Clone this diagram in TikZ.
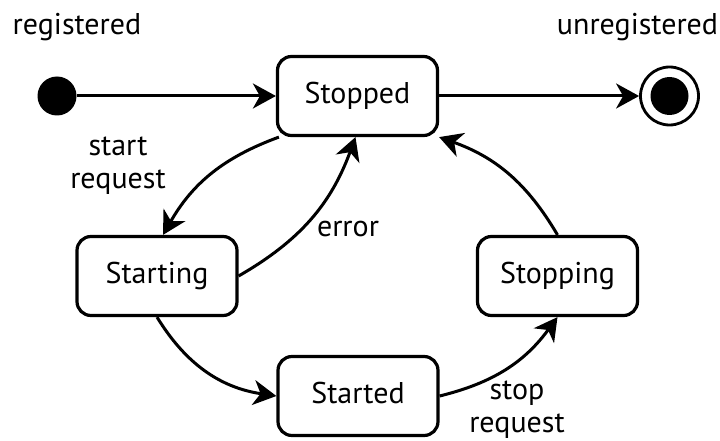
\documentclass[tikz,border=0pt]{standalone}
\usepackage{fontspec}
\setmainfont{PT Sans}
\usetikzlibrary{arrows.meta}
\tikzset{
  statebox/.style={draw, line width=3.2pt, rounded corners=14pt,
    minimum width=160pt, minimum height=79pt, inner sep=0pt,
    font=\fontsize{30}{34}\selectfont, text height=21pt, text depth=6pt},
  lbl/.style={font=\fontsize{30}{33}\selectfont, inner sep=0pt, align=center},
  arr/.style={line width=3pt, -{Stealth[length=23pt,width=25pt,inset=7pt]}},
}
\begin{document}
\begin{tikzpicture}[x=1pt,y=1pt]
  \useasboundingbox (0,0) rectangle (720,440);

  % pseudo-states
  \node[circle, fill=black, minimum size=39pt, inner sep=0pt] (init) at (57,344) {};
  \node[circle, draw, line width=2.8pt, minimum size=58pt, inner sep=0pt] (final) at (669.5,344) {};
  \node[circle, fill=black, minimum size=38pt, inner sep=0pt] (finaldot) at (final.center) {};

  % states
  \node[statebox] (stopped)  at (357.5,344) {Stopped};
  \node[statebox] (starting) at (157,164)   {Starting};
  \node[statebox] (stopping) at (557.5,164) {Stopping};
  \node[statebox] (started)  at (358,44)    {Started};

  % captions of the pseudo-states
  \node[lbl, anchor=base] (reglbl)   at (77,405)    {registered};
  \node[lbl, anchor=base] (unreglbl) at (637.5,405) {unregistered};

  % transitions
  \draw[arr] (init) -- (stopped.west);
  \draw[arr] (stopped.east) -- (final);
  \draw[arr] ([xshift=3pt]stopped.south west) to[bend right=20] ([xshift=6pt]starting.north);
  \draw[arr] (starting.east) to[bend right=20] ([xshift=-2pt]stopped.south);
  \draw[arr] (starting.south) to[bend right=25] (started.west);
  \draw[arr] (started.east) to[bend right=20] (stopping.south);
  \draw[arr] (stopping.north) to[bend right=20] (stopped.south east);

  % transition labels (anchored at the baseline of the last line)
  \node[lbl, anchor=base] (startlbl) at (118,252) {start\\request};
  \node[lbl, anchor=base] (errlbl)   at (348,204) {error};
  \node[lbl, anchor=base] (stoplbl)  at (517,8)   {stop\\request};
\end{tikzpicture}
\end{document}
